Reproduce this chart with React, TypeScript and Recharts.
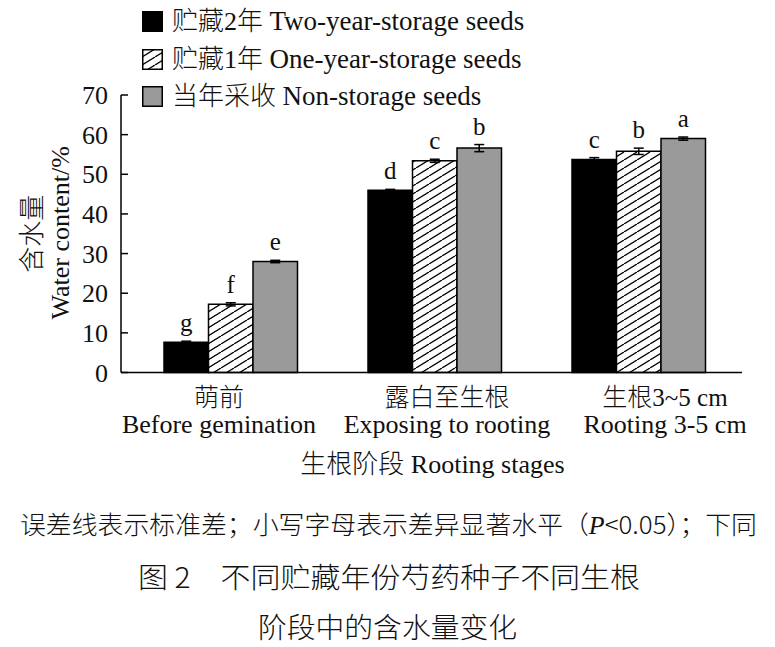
import React from 'react';
import { BarChart, Bar, XAxis, YAxis, ErrorBar, LabelList, Legend, Label } from 'recharts';

// stages on the x axis
const stagesZh = ['萌前', '露白至生根', '生根3~5 cm'];
const stagesEn = ['Before gemination', 'Exposing to rooting', 'Rooting 3-5 cm'];

// water content (%), standard deviation and significance letters per seed group
const twoYear = [7.6, 46.0, 53.7];
const twoYearSd = [0.3, 0.2, 0.5];
const twoYearSig = ['g', 'd', 'c'];

const oneYear = [17.2, 53.4, 55.8];
const oneYearSd = [0.4, 0.4, 0.8];
const oneYearSig = ['f', 'c', 'b'];

const fresh = [28.0, 56.6, 59.0];
const freshSd = [0.3, 0.9, 0.4];
const freshSig = ['e', 'b', 'a'];

const yTicks = [0, 10, 20, 30, 40, 50, 60, 70];

const FONT = '"Liberation Serif", "Times New Roman", "Noto Sans CJK SC", serif';
const CJK = '"Noto Sans CJK SC", "Liberation Serif", sans-serif';
const INK = '#111';
const LIGHT = 300;

const data = stagesZh.map((stage, i) => ({
  stage,
  two: twoYear[i],
  twoSd: twoYearSd[i],
  one: oneYear[i],
  oneSd: oneYearSd[i],
  fresh: fresh[i],
  freshSd: freshSd[i],
}));

const series = [
  { key: 'two', zh: '贮藏2年', en: 'Two-year-storage seeds', swatch: 'solid' },
  { key: 'one', zh: '贮藏1年', en: 'One-year-storage seeds', swatch: 'hatch' },
  { key: 'fresh', zh: '当年采收', en: 'Non-storage seeds', swatch: 'gray' },
];

// diagonal hatch tile, lines rising to the right
const HatchPattern = ({ id }: { id: string }) => (
  <pattern id={id} patternUnits="userSpaceOnUse" width={13} height={8}>
    <rect width={13} height={8} fill="#fff" />
    <path
      d="M-6.5,12 L19.5,-4 M-13,8 L0,0 M13,8 L26,0"
      stroke="#000"
      strokeWidth={1.3}
    />
  </pattern>
);

// significance letter sitting just above the error bar cap
const sigLabel = (sig: string[], sd: number[]) => (props: any) => {
  const { x, y, width, height, value, index } = props;
  const errPx = value ? (sd[index] * height) / value : 0;
  return (
    <text
      x={x + width / 2}
      y={y - errPx - 10}
      textAnchor="middle"
      fontSize={25}
      fontFamily={FONT}
      fill={INK}
    >
      {sig[index]}
    </text>
  );
};

// value ticks point into the plot, labels stay outside
const ValueTick = (props: any) => {
  const { x, y, payload } = props;
  const axisX = x + 13;
  return (
    <g>
      <line x1={axisX} y1={y} x2={axisX + 7} y2={y} stroke="#000" strokeWidth={1.5} />
      <text
        x={x}
        y={y}
        dy="0.35em"
        textAnchor="end"
        fontSize={26}
        fontFamily={FONT}
        fill={INK}
      >
        {payload.value}
      </text>
    </g>
  );
};

// category labels are set a little off the group centres
const tickShift = [-12, 12, 26];

const StageTick = (props: any) => {
  const { x, y, payload } = props;
  const i = payload.index;
  const cx = x + tickShift[i];
  return (
    <g fill={INK}>
      <text x={cx} y={y + 33} textAnchor="middle" fontSize={25} fontFamily={FONT} fontWeight={LIGHT}>
        {stagesZh[i]}
      </text>
      <text x={cx} y={y + 60} textAnchor="middle" fontSize={26} fontFamily={FONT}>
        {stagesEn[i]}
      </text>
    </g>
  );
};

const Swatch = ({ kind }: { kind: string }) => (
  <svg width={21} height={21} style={{ display: 'block' }}>
    <defs>
      <HatchPattern id="hatch-legend" />
    </defs>
    <rect
      x={0.75}
      y={0.75}
      width={19.5}
      height={19.5}
      fill={kind === 'solid' ? '#000' : kind === 'gray' ? '#9a9a9a' : 'url(#hatch-legend)'}
      stroke="#000"
      strokeWidth={1.5}
    />
  </svg>
);

const renderLegend = () => (
  <div style={{ fontFamily: FONT, fontSize: 26, color: INK }}>
    {series.map((s) => (
      <div key={s.key} style={{ display: 'flex', alignItems: 'center', height: 37.5 }}>
        <Swatch kind={s.swatch} />
        <span style={{ marginLeft: 9, lineHeight: 1, whiteSpace: 'nowrap' }}>
          <span style={{ fontWeight: LIGHT }}>{s.zh}</span>{' '}
          <span style={{ fontSize: 27 }}>{s.en}</span>
        </span>
      </div>
    ))}
  </div>
);

export default function App() {
  return (
    <div
      style={{
        position: 'absolute',
        left: 0,
        top: 0,
        width: 775,
        height: 647,
        background: '#fff',
        overflow: 'hidden',
      }}
    >
      <BarChart
        width={775}
        height={647}
        data={data}
        margin={{ top: 95, right: 33, bottom: 174.5, left: 61 }}
        barGap={0}
      >
        <defs>
          <HatchPattern id="hatch" />
        </defs>
        <XAxis
          dataKey="stage"
          height={100}
          padding={{ left: 8, right: 1 }}
          axisLine={{ stroke: '#000', strokeWidth: 1.5 }}
          tickLine={false}
          tickSize={0}
          tickMargin={0}
          interval={0}
          tick={<StageTick />}
        >
          <Label
            content={(p: any) => {
              const vb = p.viewBox;
              return (
                <text
                  x={vb.x + vb.width / 2 + 1}
                  y={vb.y + 100.5}
                  textAnchor="middle"
                  fontSize={26}
                  fontFamily={FONT}
                  fill={INK}
                >
                  <tspan fontWeight={LIGHT}>生根阶段</tspan> Rooting stages
                </text>
              );
            }}
          />
        </XAxis>
        <YAxis
          width={60}
          domain={[0, 70]}
          ticks={yTicks}
          interval={0}
          axisLine={{ stroke: '#000', strokeWidth: 1.5 }}
          tickLine={false}
          tickSize={0}
          tickMargin={13}
          tick={<ValueTick />}
        >
          <Label
            content={(p: any) => {
              const vb = p.viewBox;
              const cy = vb.y + vb.height / 2;
              return (
                <g fontFamily={FONT} fill={INK}>
                  <text
                    transform={`translate(${vb.x - 20},${cy}) rotate(-90)`}
                    textAnchor="middle"
                    fontSize={26}
                    fontWeight={LIGHT}
                  >
                    含水量
                  </text>
                  <text
                    transform={`translate(${vb.x + 8},${cy - 1}) rotate(-90)`}
                    textAnchor="middle"
                    fontSize={26}
                  >
                    Water content/%
                  </text>
                </g>
              );
            }}
          />
        </YAxis>
        <Legend
          layout="vertical"
          align="center"
          verticalAlign="middle"
          content={renderLegend}
          wrapperStyle={{ top: 3, left: 142, width: 520 }}
        />
        <Bar dataKey="two" fill="#000" stroke="#000" strokeWidth={1.5} barSize={44.5} isAnimationActive={false}>
          <ErrorBar dataKey="twoSd" width={5} stroke="#000" strokeWidth={1.5} />
          <LabelList dataKey="two" content={sigLabel(twoYearSig, twoYearSd)} />
        </Bar>
        <Bar dataKey="one" fill="url(#hatch)" stroke="#000" strokeWidth={1.5} barSize={44.5} isAnimationActive={false}>
          <ErrorBar dataKey="oneSd" width={5} stroke="#000" strokeWidth={1.5} />
          <LabelList dataKey="one" content={sigLabel(oneYearSig, oneYearSd)} />
        </Bar>
        <Bar dataKey="fresh" fill="#9a9a9a" stroke="#000" strokeWidth={1.5} barSize={44.5} isAnimationActive={false}>
          <ErrorBar dataKey="freshSd" width={5} stroke="#000" strokeWidth={1.5} />
          <LabelList dataKey="fresh" content={sigLabel(freshSig, freshSd)} />
        </Bar>
      </BarChart>

      <svg
        width={775}
        height={160}
        style={{ position: 'absolute', left: 0, top: 487 }}
        fill={INK}
        fontWeight={LIGHT}
      >
        <text
          x={20}
          y={46.5}
          fontSize={25}
          fontFamily={CJK}
          textLength={737}
          lengthAdjust="spacingAndGlyphs"
        >
          误差线表示标准差；小写字母表示差异显著水平（<tspan fontStyle="italic" fontWeight={400} fontFamily={FONT}>P</tspan>&lt;0.05）；下同
        </text>
        <text
          x={138}
          y={100.5}
          fontSize={28}
          fontFamily={CJK}
          textLength={502}
          lengthAdjust="spacingAndGlyphs"
        >
          图 2　不同贮藏年份芍药种子不同生根
        </text>
        <text
          x={258}
          y={150.5}
          fontSize={28}
          fontFamily={CJK}
          textLength={259}
          lengthAdjust="spacingAndGlyphs"
        >
          阶段中的含水量变化
        </text>
      </svg>
    </div>
  );
}
